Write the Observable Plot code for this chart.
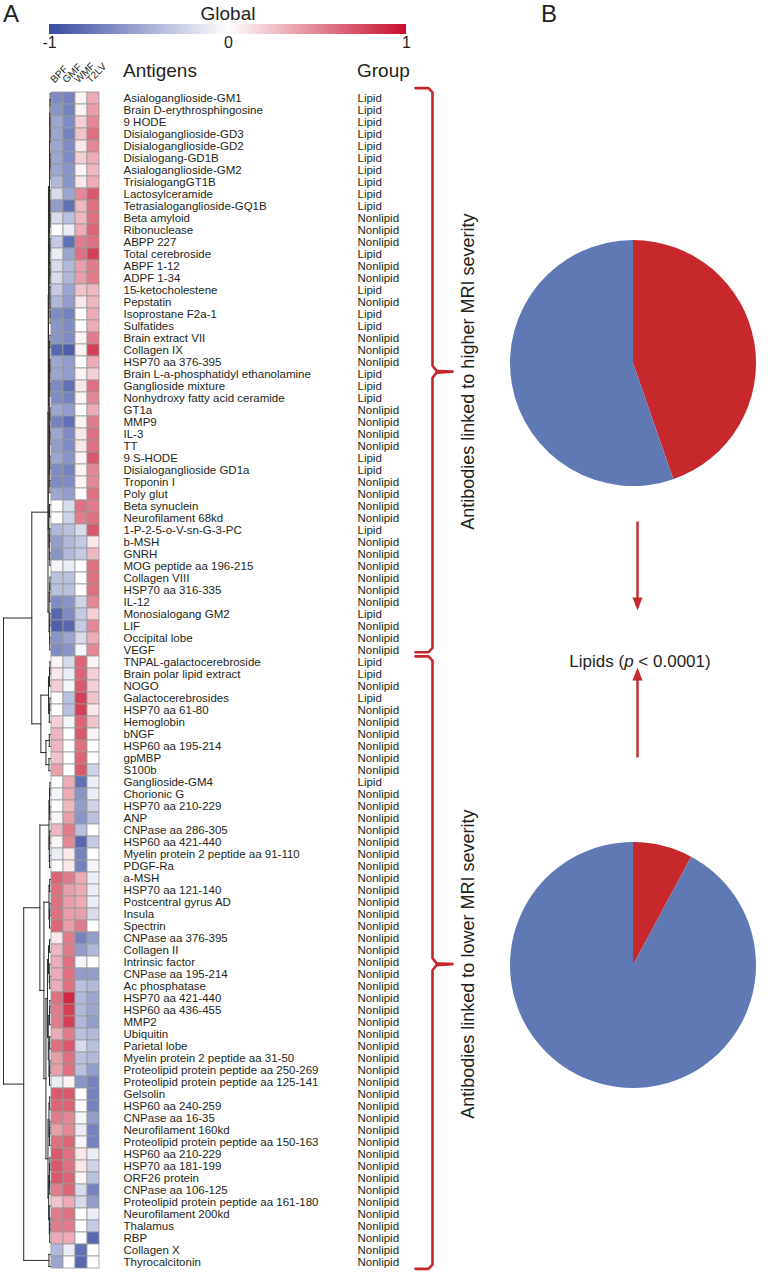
<!DOCTYPE html>
<html><head><meta charset="utf-8">
<script src="https://cdn.jsdelivr.net/npm/d3@7"></script>
<script src="https://cdn.jsdelivr.net/npm/@observablehq/plot@0.6"></script>
<style>
body{margin:0;background:#fff;}
#page{position:relative;width:768px;height:1280px;overflow:hidden;font-family:"Liberation Sans",Arial,sans-serif;color:#231f20;}
.abs{position:absolute;}
#legend .tick line,#legend .domain{display:none;}
#legend text{font-size:16px !important;font-family:"Liberation Sans",Arial,sans-serif !important;fill:#231f20;}
</style></head><body><div id="page"></div>
<script>
// ---------------- data ----------------
const columns = ["BPF", "GMF", "WMF", "T2LV"];
const antigens = ["Asialoganglioside-GM1","Brain D-erythrosphingosine","9 HODE","Disialoganglioside-GD3","Disialoganglioside-GD2","Disialogang-GD1B","Asialoganglioside-GM2","TrisialogangGT1B","Lactosylceramide","Tetrasialoganglioside-GQ1B","Beta amyloid","Ribonuclease","ABPP 227","Total cerebroside","ABPF 1-12","ADPF 1-34","15-ketocholestene","Pepstatin","Isoprostane F2a-1","Sulfatides","Brain extract VII","Collagen IX","HSP70 aa 376-395","Brain L-a-phosphatidyl ethanolamine","Ganglioside mixture","Nonhydroxy fatty acid ceramide","GT1a","MMP9","IL-3","TT","9 S-HODE","Disialoganglioside GD1a","Troponin I","Poly glut","Beta synuclein","Neurofilament 68kd","1-P-2-5-o-V-sn-G-3-PC","b-MSH","GNRH","MOG peptide aa 196-215","Collagen VIII","HSP70 aa 316-335","IL-12","Monosialogang GM2","LIF","Occipital lobe","VEGF","TNPAL-galactocerebroside","Brain polar lipid extract","NOGO","Galactocerebrosides","HSP70 aa 61-80","Hemoglobin","bNGF","HSP60 aa 195-214","gpMBP","S100b","Ganglioside-GM4","Chorionic G","HSP70 aa 210-229","ANP","CNPase aa 286-305","HSP60 aa 421-440","Myelin protein 2 peptide aa 91-110","PDGF-Ra","a-MSH","HSP70 aa 121-140","Postcentral gyrus AD","Insula","Spectrin","CNPase aa 376-395","Collagen II","Intrinsic factor","CNPase aa 195-214","Ac phosphatase","HSP70 aa 421-440","HSP60 aa 436-455","MMP2","Ubiquitin","Parietal lobe","Myelin protein 2 peptide aa 31-50","Proteolipid protein peptide aa 250-269","Proteolipid protein peptide aa 125-141","Gelsolin","HSP60 aa 240-259","CNPase aa 16-35","Neurofilament 160kd","Proteolipid protein peptide aa 150-163","HSP60 aa 210-229","HSP70 aa 181-199","ORF26 protein","CNPase aa 106-125","Proteolipid protein peptide aa 161-180","Neurofilament 200kd","Thalamus","RBP","Collagen X","Thyrocalcitonin"];
const L = "Lipid", N = "Nonlipid";
const groups = [L,L,L,L,L,L,L,L,L,L, N,N,N,L,N,N,L,N,L,L, N,N,N,L,L,L,N,N,N,N, L,L,N,N,N,N,L,N,N,N, N,N,N,L,N,N,N,L,L,N, L,N,N,N,N,N,N,L,N,N, N,N,N,N,N,N,N,N,N,N, N,N,N,N,N,N,N,N,N,N, N,N,N,N,N,N,N,N,N,N, N,N,N,N,N,N,N,N];

const BPF = [-0.65,-0.6,-0.5,-0.5,-0.5,-0.5,-0.5,-0.4,-0.2,-0.55, -0.2,0.0,-0.3,-0.1,-0.2,-0.2,-0.3,-0.4,-0.65,-0.6, -0.6,-0.85,-0.5,-0.5,-0.65,-0.65,-0.5,-0.7,-0.5,-0.55, -0.5,-0.65,-0.65,-0.5,0.0,0.0,-0.4,-0.55,-0.6,-0.05, -0.35,-0.35,-0.65,-0.85,-0.9,-0.6,-0.65,0.05,0.1,0.2, 0.0,0.0,0.2,0.3,0.3,0.25,0.4,0.0,-0.05,0.0, 0.05,0.3,0.05,-0.1,0.0,0.65,0.6,0.6,0.6,0.65, 0.1,0.3,0.35,0.35,0.35,0.6,0.55,0.55,0.35,0.6, 0.4,0.4,-0.1,0.7,0.65,0.55,0.4,0.6,0.7,0.7, 0.7,0.55,0.25,0.55,0.55,0.35,-0.4,-0.5];
const GMF = [-0.7,-0.7,-0.65,-0.7,-0.65,-0.65,-0.6,-0.6,-0.5,-0.8, -0.35,-0.1,-0.8,-0.5,-0.4,-0.4,-0.5,-0.55,-0.7,-0.65, -0.65,-0.9,-0.55,-0.55,-0.8,-0.7,-0.55,-0.8,-0.65,-0.65, -0.6,-0.7,-0.65,-0.55,-0.2,-0.25,-0.35,-0.4,-0.4,-0.1, -0.35,-0.35,-0.6,-0.65,-0.85,-0.5,-0.6,-0.2,-0.1,-0.05, -0.35,-0.35,-0.05,0.0,0.0,0.0,0.0,0.35,0.35,0.3, 0.4,0.55,0.5,0.1,0.1,0.55,0.4,0.4,0.4,0.4, 0.55,0.55,0.6,0.6,0.6,0.9,0.8,0.8,0.55,0.7, 0.6,0.6,0.05,0.7,0.65,0.5,0.5,0.65,0.6,0.6, 0.65,0.65,0.35,0.6,0.55,0.35,-0.1,0.0];
const WMF = [0.05,0.05,0.2,0.25,0.1,0.2,0.05,0.1,0.5,0.3, 0.3,0.35,0.55,0.6,0.4,0.4,0.25,0.1,0.0,0.0, 0.05,0.05,0.0,0.05,0.1,0.05,0.0,0.05,0.1,0.1, 0.05,0.05,0.05,0.0,0.6,0.55,-0.2,-0.3,-0.3,0.0, 0.0,0.0,-0.25,-0.3,-0.3,-0.2,-0.05,0.65,0.65,0.7, 0.8,0.8,0.65,0.7,0.6,0.65,0.7,-0.8,-0.6,-0.55, -0.6,-0.35,-0.85,-0.7,-0.7,0.35,0.35,0.35,0.4,0.55, -0.7,-0.55,-0.05,-0.55,-0.35,-0.4,-0.4,-0.4,-0.35,-0.2, -0.35,-0.35,-0.6,0.0,0.0,-0.05,-0.1,-0.05,0.1,0.1, 0.05,-0.2,-0.2,0.0,0.0,0.0,-0.8,-0.85];
const T2LV = [0.35,0.4,0.5,0.6,0.5,0.35,0.3,0.35,0.7,0.6, 0.6,0.65,0.6,0.8,0.55,0.55,0.3,0.3,0.35,0.35, 0.55,0.8,0.35,0.2,0.6,0.5,0.35,0.55,0.6,0.6, 0.7,0.5,0.5,0.6,0.55,0.6,0.7,0.1,0.3,0.6, 0.6,0.6,0.5,0.2,0.5,0.35,0.5,0.05,0.2,0.2, 0.25,0.1,0.25,0.05,0.0,0.0,-0.25,-0.1,-0.1,-0.25, -0.35,0.0,-0.3,0.0,-0.05,-0.1,-0.1,-0.1,-0.2,0.0, -0.55,-0.4,0.0,-0.55,-0.4,-0.5,-0.5,-0.55,-0.4,-0.35, -0.4,-0.55,-0.7,-0.7,-0.7,-0.55,-0.7,-0.7,-0.1,-0.25, -0.35,-0.7,-0.55,-0.1,-0.3,-0.85,0.0,0.0];

const colorTicks = [-1, 0, 1];
const clusters = [
  {label: "Antibodies linked to higher MRI severity", first: 1, last: 47},
  {label: "Antibodies linked to lower MRI severity", first: 48, last: 98}
];

// dendrogram: [height, left, right], leaves = row numbers
const R1_20 = [0.1, [0.07, [0.05, [0.03,1,2], [0.04,3,[0.03,4,5]]], [0.05,[0.03,6,7],8]], [0.08, [0.06, 9, [0.05,10,[0.04,11,12]]], [0.07, [0.05,13,14], [0.06,[0.04,15,16],[0.05,17,[0.04,18,[0.03,19,20]]]]]]];
const R21_34 = [0.12, [0.08, [0.05,21,22], [0.06,[0.04,23,24],[0.05,25,26]]], [0.1, [0.06,[0.04,27,28],[0.05,29,30]], [0.08,[0.05,31,32],[0.06,33,34]]]];
const R35_40 = [0.15, [0.1,35,36], [0.12,[0.06,37,38],[0.07,39,40]]];
const R41_47 = [0.14, [0.07,[0.05,41,42],43], [0.09,[0.06,44,45],[0.07,46,47]]];
const A1 = [0.25, [0.22, [0.2, R1_20, R21_34], R35_40], R41_47];
const A2 = [0.95, [0.2, [0.1,[0.05,48,49],50], [0.12,[0.06,51,52],53]], [0.45, [0.12,54,55], [0.15,56,57]]];
const B1a = [0.15, [0.1,[0.06,58,59],[0.07,60,61]], [0.12,[0.08,62,63],[0.09,64,65]]];
const B1b1 = [0.15, [0.08,66,67], [0.1,[0.06,68,69],70]];
const X1 = [0.3, [0.2,[0.1,71,72],[0.12,73,[0.08,74,75]]], [0.22,[0.1,[0.06,76,77],78],[0.15,[0.08,79,80],[0.1,[0.06,81,82],83]]]];
const X2 = [0.25, [0.15,[0.08,84,85],[0.1,[0.06,86,87],88]], [0.18,[0.1,[0.06,89,90],[0.07,91,92]],[0.12,93,[0.08,[0.05,94,95],96]]]];
const tree = [4.65, [1.85, A1, A2], [2.65, [1.05, B1a, [0.65, B1b1, [0.45, X1, X2]]], [0.15, 97, 98]]];

// ---------------- styling ----------------
const FONT = "Liberation Sans, Arial, sans-serif";
const INK = "#231f20";
const BLUE = "#3b4da2", RED = "#c8102e";
const PIE_RED = "#c6282b", PIE_BLUE = "#6079b5";
const heatInterp = d3.piecewise(d3.interpolateRgb, [BLUE, "#ffffff", RED]);
const TOP = 87, BOTTOM = 1272;
const page = document.getElementById("page");
function place(node, left, top, width, id) {
  const d = document.createElement("div");
  d.className = "abs"; d.style.left = left + "px"; d.style.top = top + "px";
  if (width) d.style.width = width + "px";
  if (id) d.id = id;
  d.append(node); page.append(d); return d;
}
function label(html, left, top, size, lh, extra = "") {
  const d = document.createElement("div");
  d.className = "abs";
  d.style.cssText = `left:${left}px;top:${top}px;font-size:${size}px;line-height:${lh}px;white-space:nowrap;${extra}`;
  d.innerHTML = html; page.append(d); return d;
}

// ---------------- titles ----------------
label("A", 3, 2, 24, 24);
label("B", 541, 2, 24, 24);
label("Global", 128, 2, 19, 23, "width:200px;text-align:center;");
label("Antigens", 123, 59, 19, 23);
label("Group", 357, 59, 19, 23);
label("Lipids (<i>p</i> &lt; 0.0001)", 506, 651, 17, 21, "width:268px;text-align:center;");

// ---------------- colour legend ----------------
const legend = Plot.legend({
  color: {type: "linear", domain: [-1, 1], interpolate: heatInterp},
  width: 420, height: 40, marginTop: 0, marginBottom: 30, marginLeft: 20, marginRight: 43,
  ticks: colorTicks, tickSize: 0, tickFormat: d => String(d), label: null,
  style: {background: "none", overflow: "visible", fontFamily: FONT}
});
place(legend, 29, 24, 420, "legend");

// ---------------- dendrogram ----------------
const segs = [];
function layout(node) {
  if (typeof node === "number") return {y: node, h: 0};
  const [h, a, b] = node;
  const A = layout(a), B = layout(b);
  segs.push({x1: h, x2: h, y1: A.y, y2: B.y});
  segs.push({x1: h, x2: A.h, y1: A.y, y2: A.y});
  segs.push({x1: h, x2: B.h, y1: B.y, y2: B.y});
  return {y: (A.y + B.y) / 2, h};
}
layout(tree);
const dendro = Plot.plot({
  width: 52, height: 1280, margin: 0,
  style: {background: "none"},
  x: {domain: [tree[0], 0], range: [3, 50], axis: null},
  y: {domain: [0.5, antigens.length + 0.5], range: [TOP, BOTTOM], axis: null},
  marks: [Plot.link(segs, {x1: "x1", y1: "y1", x2: "x2", y2: "y2", stroke: "#2a2a2a", strokeWidth: 1, strokeLinecap: "square"})]
});
place(dendro, 0, 0, 52);

// ---------------- heatmap + labels ----------------
const values = {BPF, GMF, WMF, T2LV};
const rows = antigens.map((name, i) => ({id: i + 1, name, group: groups[i]}));
const cells = rows.flatMap(r => columns.map(c => ({row: r.id, col: c, v: values[c][r.id - 1]})));
const heat = Plot.plot({
  width: 430, height: 1280,
  marginLeft: 50, marginRight: 331, marginTop: TOP, marginBottom: 1280 - BOTTOM,
  style: {background: "none", fontFamily: FONT, color: INK},
  x: {domain: columns, padding: 0, axis: null},
  y: {domain: rows.map(r => r.id), padding: 0, axis: null},
  color: {type: "linear", domain: [-1, 1], interpolate: heatInterp},
  marks: [
    Plot.cell(cells, {x: "col", y: "row", fill: "v", stroke: "#9a9a9a", strokeWidth: 0.8, inset: 0}),
    Plot.text(columns, {x: d => d, text: d => d, frameAnchor: "top", rotate: -45, textAnchor: "start", lineAnchor: "bottom", dx: -3, dy: -4, fontSize: 10, fill: INK}),
    Plot.text(rows, {y: "id", text: "name", frameAnchor: "right", textAnchor: "start", dx: 24, fontSize: 11.5, fill: INK}),
    Plot.text(rows, {y: "id", text: "group", frameAnchor: "right", textAnchor: "start", dx: 258, fontSize: 11.5, fill: INK})
  ]
});
place(heat, 0, 0, 430);

// ---------------- braces ----------------
const BR = {hook: 15, spine: 32, nub: 52, text: 68};
const bracePts = clusters.flatMap((c, k) => {
  const s = c.first - 0.45, e = c.last + 0.2, m = (c.first + c.last) / 2;
  return [
    {x: BR.hook, y: s}, {x: BR.spine - 4, y: s}, {x: BR.spine, y: s + 0.35},
    {x: BR.spine, y: m - 0.5}, {x: BR.spine + 4, y: m - 0.08}, {x: BR.nub, y: m},
    {x: BR.spine + 4, y: m + 0.08}, {x: BR.spine, y: m + 0.5},
    {x: BR.spine, y: e - 0.35}, {x: BR.spine - 4, y: e}, {x: BR.hook, y: e}
  ].map(p => ({...p, k}));
});
const braces = Plot.plot({
  width: 100, height: 1280, margin: 0,
  style: {background: "none", fontFamily: FONT, color: INK},
  x: {domain: [0, 100], range: [0, 100], axis: null},
  y: {domain: [0.5, antigens.length + 0.5], range: [TOP, BOTTOM], axis: null},
  marks: [
    Plot.line(bracePts, {x: "x", y: "y", z: "k", stroke: "#c4262b", strokeWidth: 2.6, strokeLinejoin: "round", curve: "linear"}),
    Plot.text(clusters, {x: () => BR.text, y: c => (c.first + c.last) / 2, text: "label", rotate: -90, fontSize: 18, fill: INK})
  ]
});
place(braces, 400, 0, 100);

// ---------------- panel B: pies + arrows ----------------
const pieGeom = {cx: 133, r: 123, cy: [363, 965]};
const pieColor = Plot.scale({color: {domain: ["Lipid", "Nonlipid"], range: [PIE_RED, PIE_BLUE]}});
const pies = clusters.map((c, k) => {
  const gs = groups.slice(c.first - 1, c.last);
  return {cx: pieGeom.cx, cy: pieGeom.cy[k], r: pieGeom.r,
    slices: pieColor.domain.map(g => ({group: g, n: gs.filter(d => d === g).length}))};
});
const arrows = [{x: 137, y1: 521, y2: 610}, {x: 137, y1: 757, y2: 667}];
const HEAD = {len: 13, half: 5};
const shafts = arrows.map(a => ({x: a.x, y1: a.y1, y2: a.y2 - Math.sign(a.y2 - a.y1) * (HEAD.len - 2)}));
const heads = arrows.flatMap((a, i) => {
  const s = Math.sign(a.y2 - a.y1);
  return [{x: a.x - HEAD.half, y: a.y2 - s * HEAD.len, i}, {x: a.x, y: a.y2, i}, {x: a.x + HEAD.half, y: a.y2 - s * HEAD.len, i}];
});
function pieMark(index, scales) {
  const sx = scales.x || (v => v), sy = scales.y || (v => v);
  const g = d3.create("svg:g");
  for (const p of pies) {
    const arcs = d3.pie().sort(null).value(d => d.n)(p.slices);
    g.append("g").attr("transform", `translate(${sx(p.cx)},${sy(p.cy)})`)
      .selectAll("path").data(arcs).join("path")
      .attr("d", d3.arc().innerRadius(0).outerRadius(p.r))
      .attr("fill", d => pieColor.apply(d.data.group));
  }
  return g.node();
}
const panelB = Plot.plot({
  width: 268, height: 1280, margin: 0,
  style: {background: "none"},
  x: {domain: [0, 268], range: [0, 268], axis: null},
  y: {domain: [0, 1280], range: [0, 1280], axis: null},
  marks: [
    pieMark,
    Plot.link(shafts, {x1: "x", x2: "x", y1: "y1", y2: "y2", stroke: PIE_RED, strokeWidth: 2.4}),
    Plot.line(heads, {x: "x", y: "y", z: "i", fill: PIE_RED, stroke: "none"})
  ]
});
place(panelB, 500, 0, 268);
</script></body></html>
